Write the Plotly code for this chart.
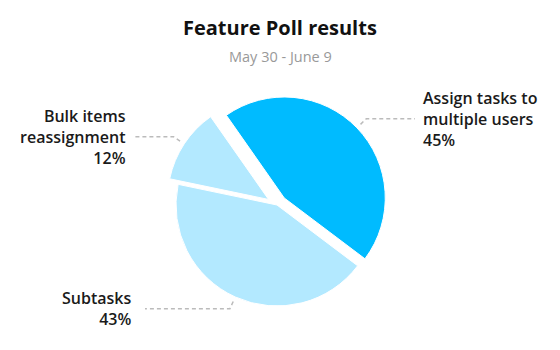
import math
import plotly.graph_objects as go

# Poll data
categories = ["Assign tasks to multiple users", "Subtasks", "Bulk items reassignment"]
label_lines = [["Assign tasks to", "multiple users"], ["Subtasks"], ["Bulk items", "reassignment"]]
shares = [45, 43, 12]
slice_pull = [0.1, 0.0, 0.1]
slice_colors = ["#00BBFF", "#B3E9FF", "#B3E9FF"]

W, H = 560, 350
FONT = "Open Sans"

# Pie geometry in pixels
cx, cy = 277, 205          # pie centre
R = 101                    # pie radius
start_angle = -35          # first slice starts here, clockwise from 12 o'clock
max_pull = max(slice_pull)
half = R * (1 + max_pull)

dom_x = [(cx - half) / W, (cx + half) / W]
dom_y = [(H - (cy + half)) / H, (H - (cy - half)) / H]

fig = go.Figure(go.Pie(
    labels=categories,
    values=shares,
    sort=False,
    direction="clockwise",
    rotation=start_angle,
    pull=slice_pull,
    marker=dict(colors=slice_colors, line=dict(color="white", width=1)),
    textinfo="none",
    hoverinfo="skip",
    showlegend=False,
    domain=dict(x=dom_x, y=dom_y),
))

# label anchor x and connector end x (px) per slice
label_x = [421, 133, 128]
label_end = [415, 145, 135]

def px(x):
    return x / W

def py(y):
    return 1 - y / H

shapes = []
annotations = []
total = sum(shares)
cum = 0
for i, v in enumerate(shares):
    mid = math.radians(start_angle + 360 * (cum + v / 2) / total)
    cum += v
    dx, dy = math.sin(mid), -math.cos(mid)
    ox = cx + slice_pull[i] * R * dx
    oy = cy + slice_pull[i] * R * dy
    sx, sy = ox + (R + 5) * dx, oy + (R + 5) * dy
    kx, ky = sx + 8 * dx, sy + 8 * dy
    ex = label_end[i]
    path = f"M {px(sx)} {py(sy)} L {px(kx)} {py(ky)} L {px(ex)} {py(ky)}"
    shapes.append(dict(type="path", xref="paper", yref="paper", path=path,
                       line=dict(color="#BBBBBB", width=1.5, dash="4px,3px")))
    right_side = dx > 0
    text = "<br>".join(label_lines[i] + [f"{v}%"])
    annotations.append(dict(
        x=px(label_x[i]), y=py(ky), xref="paper", yref="paper",
        text=text, showarrow=False,
        xanchor="left" if right_side else "right",
        yanchor="middle",
        align="left" if right_side else "right",
        font=dict(family=FONT, size=16, color="#1A1A1A", weight=600),
    ))

annotations.append(dict(x=0.5, y=py(28), xref="paper", yref="paper", showarrow=False,
                        text="Feature Poll results", xanchor="center", yanchor="middle",
                        font=dict(family=FONT, size=20, color="#111111", weight="bold")))
annotations.append(dict(x=0.5, y=py(57), xref="paper", yref="paper", showarrow=False,
                        text="May 30 - June 9", xanchor="center", yanchor="middle",
                        font=dict(family=FONT, size=14.5, color="#999999")))

fig.update_layout(
    width=W, height=H,
    margin=dict(l=0, r=0, t=0, b=0),
    paper_bgcolor="white", plot_bgcolor="white",
    shapes=shapes, annotations=annotations,
)

fig.write_html("out.html", config={"displayModeBar": False})
